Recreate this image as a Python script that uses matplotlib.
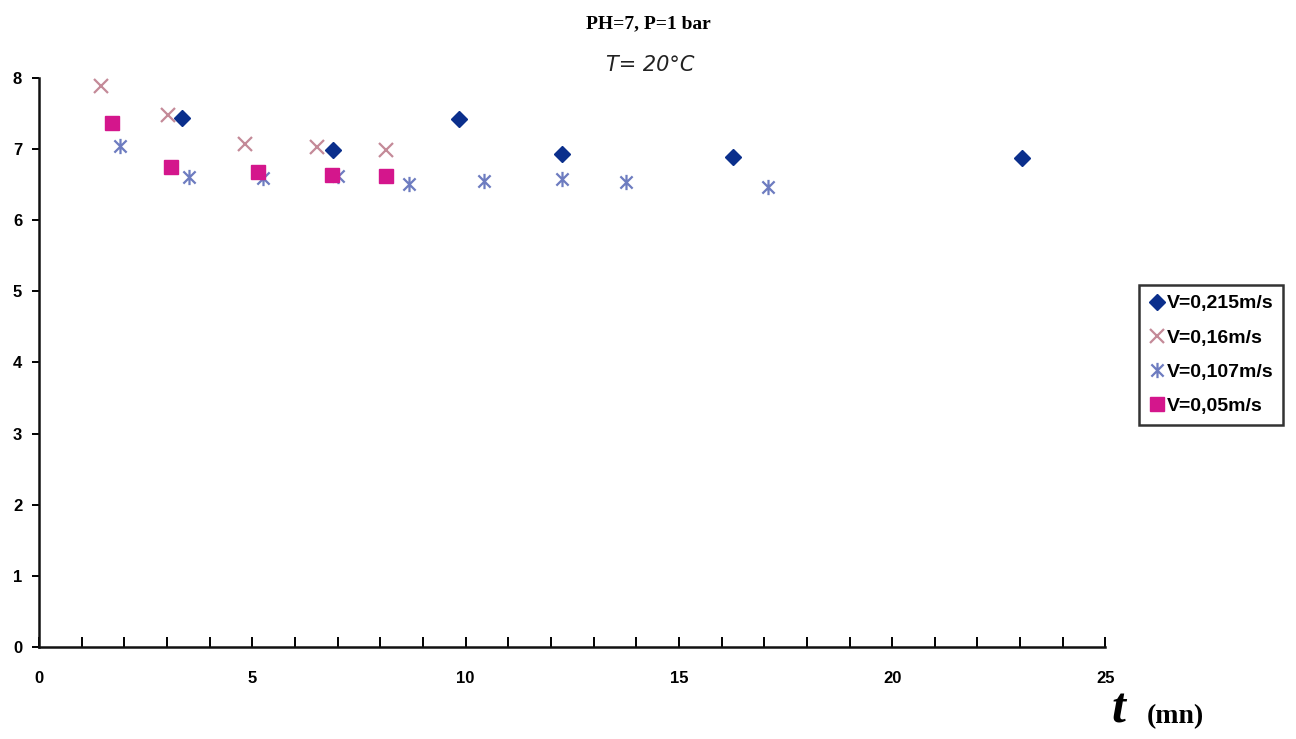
import matplotlib
matplotlib.use("Agg")
import matplotlib.pyplot as plt
from matplotlib.path import Path
from matplotlib.ticker import MultipleLocator

# Data
t_215 = [3.35, 6.89, 9.84, 12.27, 16.28, 23.04]
v_215 = [7.44, 6.99, 7.43, 6.93, 6.89, 6.88]

t_16 = [1.45, 3.02, 4.82, 6.51, 8.13]
v_16 = [7.88, 7.48, 7.07, 7.03, 6.99]

t_107 = [1.90, 3.51, 5.25, 7.00, 8.67, 10.44, 12.27, 13.77, 17.10]
v_107 = [7.05, 6.61, 6.60, 6.62, 6.51, 6.55, 6.58, 6.54, 6.47]

t_05 = [1.71, 3.09, 5.13, 6.86, 8.13]
v_05 = [7.37, 6.75, 6.68, 6.64, 6.62]

labels = ["V=0,215m/s", "V=0,16m/s", "V=0,107m/s", "V=0,05m/s"]
xticks = [0, 5, 10, 15, 20, 25]
yticks = [0, 1, 2, 3, 4, 5, 6, 7, 8]

star = Path([(-1, -1), (1, 1), (-1, 1), (1, -1), (0, -1.25), (0, 1.25)],
            [Path.MOVETO, Path.LINETO, Path.MOVETO, Path.LINETO, Path.MOVETO, Path.LINETO])

fig = plt.figure(figsize=(12.96, 7.39), dpi=100)
fig.patch.set_facecolor("white")
ax = fig.add_axes([0.030, 0.1245, 0.823, 0.770])

ax.plot(t_215, v_215, linestyle="none", marker="D", markersize=8.5,
        color="#0b2f8c", label=labels[0])
ax.plot(t_16, v_16, linestyle="none", marker="x", markersize=10, markeredgewidth=1.6,
        color="#c48a98", label=labels[1])
ax.plot(t_107, v_107, linestyle="none", marker=star, markersize=11, markeredgewidth=1.6,
        color="#6d7cc0", label=labels[2])
ax.plot(t_05, v_05, linestyle="none", marker="s", markersize=10,
        color="#d4168c", label=labels[3])

ax.set_xlim(0, 25)
ax.set_ylim(0, 8)
ax.spines["top"].set_visible(False)
ax.spines["right"].set_visible(False)
for s in ("left", "bottom"):
    ax.spines[s].set_linewidth(1.8)
    ax.spines[s].set_color("#111111")

ax.set_xticks(xticks)
ax.xaxis.set_minor_locator(MultipleLocator(1))
ax.set_yticks(yticks)
ax.tick_params(axis="x", which="both", direction="in", length=7, width=1.4, pad=17,
               labelsize=12)
ax.tick_params(axis="y", direction="out", length=5, width=1.4, pad=7, labelsize=12)
for lab in ax.get_xticklabels() + ax.get_yticklabels():
    lab.set_fontfamily("Liberation Sans")
    lab.set_fontweight("bold")

leg = ax.legend(loc="upper left", bbox_to_anchor=(1.031, 0.636), frameon=True,
                fancybox=False, handletextpad=0.05, handlelength=0.9,
                borderpad=0.5, labelspacing=0.85, borderaxespad=0.0,
                prop={"family": "Liberation Sans", "weight": "bold", "size": 14})
leg.get_frame().set_edgecolor("black")
leg.get_frame().set_linewidth(1.8)

fig.text(0.5, 0.968, "PH=7, P=1 bar", ha="center", va="center",
         fontfamily="Liberation Serif", fontweight="bold", fontsize=14)
fig.text(0.502, 0.912, "T= 20°C", ha="center", va="center",
         fontfamily="DejaVu Sans", fontstyle="italic", fontsize=15, color="#222222")
fig.text(0.858, 0.022, "t", ha="left", va="baseline",
         fontfamily="Liberation Serif", fontweight="bold", fontstyle="italic", fontsize=36)
fig.text(0.885, 0.022, "(mn)", ha="left", va="baseline",
         fontfamily="Liberation Serif", fontweight="bold", fontsize=20)

fig.savefig("out.png", dpi=100, facecolor="white")
